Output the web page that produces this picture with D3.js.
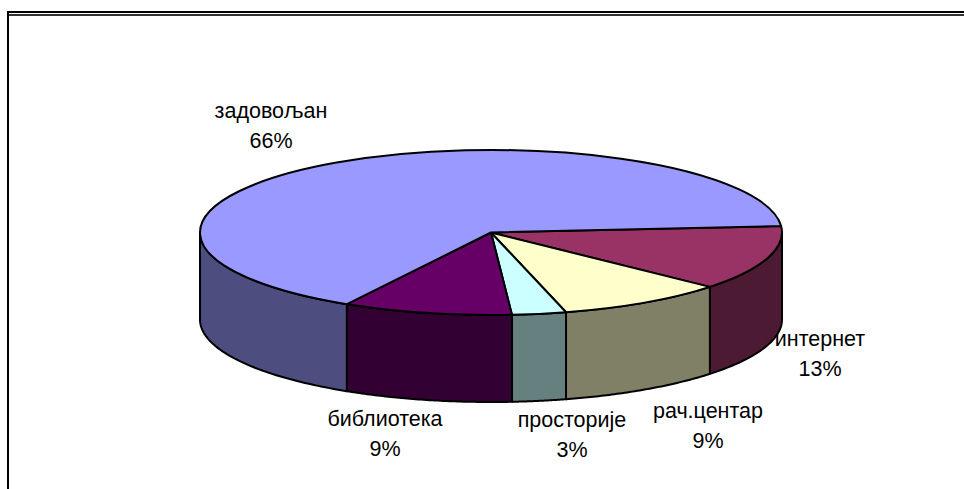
<!doctype html>
<html>
  <head>
    <meta charset="utf-8">
    <script src="https://d3js.org/d3.v7.min.js"></script>
    <style>
      body { margin: 0; background: #fff; }
      svg { display: block; }
      text { font-family: "Liberation Sans", Arial, sans-serif; font-size: 21.5px; fill: #000; }
    </style>
  </head>
  <body>
    <div id="chart"></div>
    <script>
      // chart data, clockwise starting with the first slice
      // shares are read off the slice angles, labels round them
      var categories = ["интернет", "рач.центар", "просторије", "библиотека", "задовољан"];
      var shares = [12.7, 9.4, 3, 9.4, 65.5];
      var colors = ["#993366", "#ffffcc", "#ccffff", "#660066", "#9999ff"];
      var wallColors = ["#4d1a33", "#808066", "#668080", "#330033", "#4d4d80"];
      // [x, y of first line] per label
      var labelPos = [[820, 346], [708, 418], [572, 427], [385, 426], [271, 118]];

      var width = 964, height = 489;
      var cx = 491, cy = 232.5, rx = 291, ry = 82.5, depth = 87;

      var svg = d3.select("#chart").append("svg")
        .attr("width", width)
        .attr("height", height);

      // frame, only top and left are inside the picture
      svg.append("rect").attr("x", 7).attr("y", 11).attr("width", 957).attr("height", 2).attr("fill", "#000");
      svg.append("rect").attr("x", 7).attr("y", 14).attr("width", 957).attr("height", 2).attr("fill", "#333");
      svg.append("rect").attr("x", 7).attr("y", 11).attr("width", 2).attr("height", 478).attr("fill", "#000");

      var pie = d3.pie().sort(null).startAngle(85.5 * Math.PI / 180).endAngle((85.5 + 360) * Math.PI / 180);
      var slices = pie(shares);

      var px = function(a) { return cx + rx * Math.sin(a); };
      var py = function(a) { return cy - ry * Math.cos(a); };

      // same ellipse through d3.arc, squeezed vertically
      var arc = d3.arc().innerRadius(0).outerRadius(1);

      // outer wall of a slice, only the part facing the viewer (90 to 270 deg)
      var wallPath = function(d) {
        var a0 = Math.max(d.startAngle, Math.PI / 2);
        var a1 = Math.min(d.endAngle, Math.PI * 1.5);
        if (a1 <= a0) return null;
        var angles = d3.range(0, 61).map(function(i) { return a0 + (a1 - a0) * i / 60; });
        var top = angles.map(function(a) { return [px(a), py(a)]; });
        var bottom = angles.slice().reverse().map(function(a) { return [px(a), py(a) + depth]; });
        return d3.line()(top.concat(bottom)) + "Z";
      };

      svg.selectAll("path.wall")
        .data(slices)
        .enter()
        .append("path")
        .attr("class", "wall")
        .attr("d", wallPath)
        .attr("fill", function(d, i) { return wallColors[i]; })
        .attr("stroke", "#000")
        .attr("stroke-width", 2)
        .attr("stroke-linejoin", "round");

      svg.selectAll("path.top")
        .data(slices)
        .enter()
        .append("path")
        .attr("class", "top")
        .attr("d", arc)
        .attr("transform", "translate(" + cx + "," + cy + ") scale(" + rx + "," + ry + ")")
        .attr("fill", function(d, i) { return colors[i]; })
        .attr("stroke", "#000")
        .attr("stroke-width", 2)
        .attr("stroke-linejoin", "round")
        .attr("vector-effect", "non-scaling-stroke");

      var labels = svg.selectAll("text")
        .data(categories)
        .enter()
        .append("text")
        .attr("text-anchor", "middle")
        .attr("y", function(d, i) { return labelPos[i][1]; });

      labels.append("tspan")
        .attr("x", function(d, i) { return labelPos[i][0]; })
        .text(function(d) { return d; });

      labels.append("tspan")
        .attr("x", function(d, i) { return labelPos[i][0]; })
        .attr("dy", 30)
        .text(function(d, i) { return Math.round(shares[i]) + "%"; });
    </script>
  </body>
</html>
